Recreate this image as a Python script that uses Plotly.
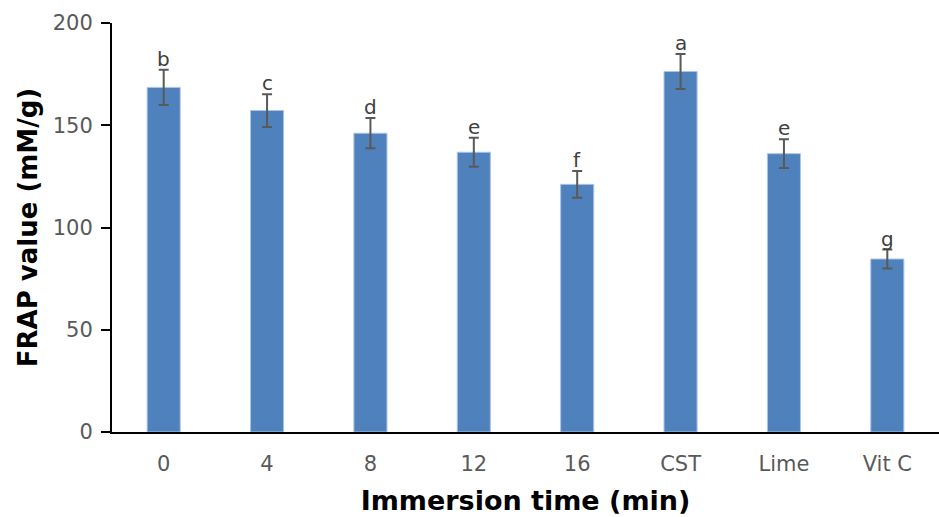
import plotly.graph_objects as go

categories = ["0", "4", "8", "12", "16", "CST", "Lime", "Vit C"]
frap = [168.5, 157.2, 146.1, 136.8, 121.1, 176.3, 136.1, 84.6]
errors = [8.6, 8.0, 7.4, 7.1, 6.5, 8.6, 7.0, 4.6]
letters = ["b", "c", "d", "e", "f", "a", "e", "g"]
y_ticks = [0, 50, 100, 150, 200]

FONT = "DejaVu Sans"
idx = list(range(len(categories)))

fig = go.Figure()
fig.add_trace(go.Bar(
    x=idx, y=frap,
    marker=dict(color="#4F81BD", line=dict(color="#A9C4E6", width=1)),
    error_y=dict(type="data", array=errors, visible=True,
                 color="#595959", thickness=2, width=5),
    width=0.32,
))

for i, v, e, t in zip(idx, frap, errors, letters):
    fig.add_annotation(x=i, y=v + e, text=t, showarrow=False,
                       yanchor="bottom", yshift=-3,
                       font=dict(family=FONT, size=20, color="#404040"))

fig.update_layout(
    width=939, height=517,
    margin=dict(l=112, r=0, t=23, b=85),
    plot_bgcolor="white", paper_bgcolor="white",
    showlegend=False,
    xaxis=dict(
        range=[-0.5, len(categories) - 0.5],
        tickvals=idx, ticktext=categories,
        showline=True, linecolor="black", linewidth=2,
        ticks="", showgrid=False, zeroline=False,
        ticklabelstandoff=12,
        tickfont=dict(family=FONT, size=21, color="#595959"),
        title=dict(text="<b>Immersion time (min)</b>",
                   font=dict(family=FONT, size=27, color="black"), standoff=16),
    ),
    yaxis=dict(
        range=[0, 200], tickvals=y_ticks,
        showline=True, linecolor="black", linewidth=2,
        ticks="outside", ticklen=9, tickwidth=2, tickcolor="black",
        showgrid=False, zeroline=False,
        ticklabelstandoff=4,
        tickfont=dict(family=FONT, size=21, color="#595959"),
        title=dict(text="<b>FRAP value (mM/g)</b>",
                   font=dict(family=FONT, size=26, color="black"), standoff=8),
    ),
)

fig.write_html(
    "out.html",
    config={"displayModeBar": False},
    post_script="document.body.style.margin='0';document.body.style.overflow='hidden';",
)
